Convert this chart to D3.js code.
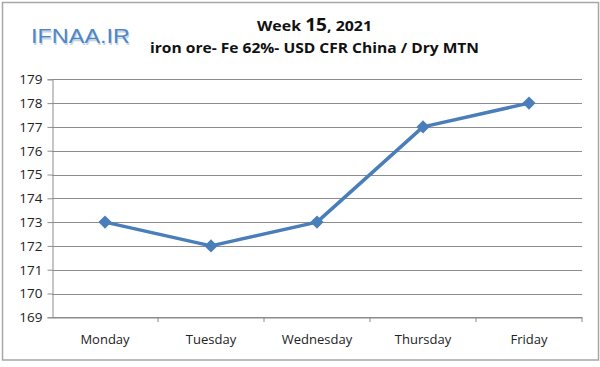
<!DOCTYPE html>
<html><head><meta charset="utf-8">
<script src="https://cdn.jsdelivr.net/npm/d3@7"></script>
<style>body{margin:0;background:#fff}svg{display:block}</style>
</head><body>
<script>
const days = ["Monday","Tuesday","Wednesday","Thursday","Friday"];
const prices = [173,172,173,177,178];
const yTicks = [169,170,171,172,173,174,175,176,177,178,179];
const titleLine1 = "Week ";
const titleWeek = "15";
const titleYear = ", 2021";
const subtitle = "iron ore- Fe 62%- USD CFR China / Dry MTN";
const logo = "IFNAA.IR";

(function(){
const W = 600, H = 367;
const svg = d3.select("body").append("svg").attr("width", W).attr("height", H);
svg.append("rect").attr("x",2.5).attr("y",2.5).attr("width",596).attr("height",357.5)
  .attr("fill","#fff").attr("stroke","#a6a6a6").attr("stroke-width",1.5);

const pLeft = 52, pRight = 582, pTop = 79.3, pBottom = 317.3;
const x = d3.scaleBand().domain(days).range([pLeft,pRight]);
const y = d3.scaleLinear().domain([169,179]).range([pBottom,pTop]);

svg.append("g").selectAll("line").data(yTicks).join("line")
  .attr("x1",pLeft).attr("x2",pRight).attr("y1",d=>Math.round(y(d))+0.5).attr("y2",d=>Math.round(y(d))+0.5)
  .attr("stroke","#8c8c8c").attr("stroke-width",1);

const font = "'Open Sans', 'Liberation Sans', sans-serif";
const ya = svg.append("g").attr("transform",`translate(${pLeft+0.5},0)`)
  .call(d3.axisLeft(y).tickValues(yTicks).tickSize(5).tickPadding(5).tickFormat(d3.format("d")));
ya.select(".domain").attr("stroke","#8c8c8c");
ya.selectAll(".tick line").attr("stroke","#8c8c8c");
ya.selectAll(".tick text").attr("font-family",font).attr("font-size",13.5).attr("fill","#222");

const xa = svg.append("g").attr("transform",`translate(0,${Math.round(pBottom)+0.5})`)
  .call(d3.axisBottom(x).tickSize(0).tickPadding(17));
xa.select(".domain").attr("stroke","#8c8c8c");
xa.selectAll(".tick text").attr("font-family",font).attr("font-size",13).attr("fill","#222");
svg.append("g").selectAll("line").data(days).join("line")
  .attr("x1",d=>x(d)+x.bandwidth()).attr("x2",d=>x(d)+x.bandwidth())
  .attr("y1",Math.round(pBottom)).attr("y2",Math.round(pBottom)+5)
  .attr("stroke","#8c8c8c");

const cx = d => x(d)+x.bandwidth()/2;
const pts = days.map((d,i)=>[cx(d), y(prices[i])]);
svg.append("path").attr("d",d3.line()(pts)).attr("fill","none")
  .attr("stroke","#4a7ebb").attr("stroke-width",3.5).attr("stroke-linejoin","round");
svg.append("g").selectAll("path").data(pts).join("path")
  .attr("d",d3.symbol().type(d3.symbolDiamond2).size(110))
  .attr("transform",d=>`translate(${d[0]},${d[1]})`)
  .attr("fill","#4a7ebb");

const t1 = svg.append("text").attr("x",314.5).attr("y",31).attr("text-anchor","middle")
  .attr("font-family",font).attr("font-weight","bold").attr("font-size",15).attr("fill","#111")
  .attr("textLength",115).attr("lengthAdjust","spacingAndGlyphs");
t1.append("tspan").text(titleLine1);
t1.append("tspan").attr("font-size",18).text(titleWeek);
t1.append("tspan").text(titleYear);
svg.append("text").attr("x",314.5).attr("y",53).attr("text-anchor","middle")
  .attr("font-family",font).attr("font-weight","bold").attr("font-size",14.5).attr("fill","#111")
  .attr("textLength",329).attr("lengthAdjust","spacingAndGlyphs")
  .text(subtitle);

svg.append("text").attr("x",31).attr("y",43).attr("font-family","'Liberation Sans', sans-serif")
  .attr("font-size",20).attr("fill","#c8d4e4").attr("textLength",99).attr("lengthAdjust","spacingAndGlyphs")
  .text(logo).attr("transform","translate(1,1.5)");
svg.append("text").attr("x",31).attr("y",43).attr("font-family","'Liberation Sans', sans-serif")
  .attr("font-size",20).attr("fill","#4f86c6").attr("textLength",99).attr("lengthAdjust","spacingAndGlyphs")
  .text(logo);
})();
</script>
</body></html>
